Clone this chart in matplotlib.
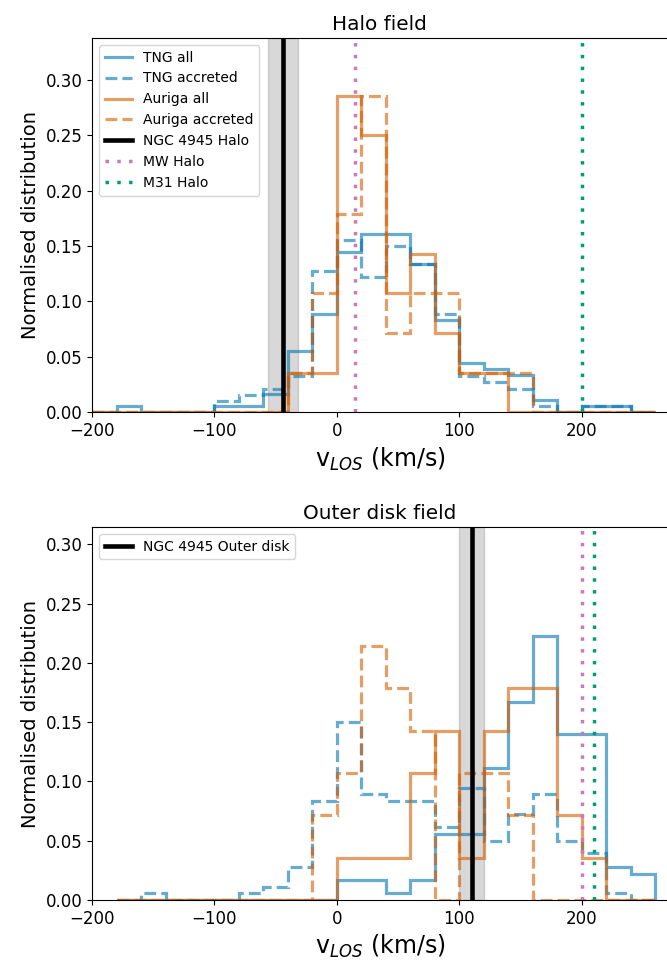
import numpy as np
import matplotlib
matplotlib.use('Agg')
import matplotlib.pyplot as plt

# histogram bins (km/s)
edges_halo = np.arange(-200, 261, 20)
edges_disk = np.arange(-180, 261, 20)

# Halo field, normalised fractions per 20 km/s bin
tng_all_halo = np.array([0, 1, 0, 0, 0, 1, 1, 3, 10, 16, 26, 29, 29, 24, 15, 8, 7, 6, 2, 0, 1, 1, 0]) / 180.
tng_acc_halo = np.array([0, 0, 0, 0, 0, 0.0102, 0.015, 0.021, 0.0325, 0.1277, 0.1554, 0.1223,
                         0.1503, 0.1337, 0.0883, 0.0328, 0.0268, 0.0208, 0.005, 0, 0.005, 0.005, 0])
aur_all_halo = np.array([0, 0, 0, 0, 0, 0, 0, 0, 1, 1, 8, 7, 3, 4, 2, 1, 1, 0, 0, 0, 0, 0, 0]) / 28.
aur_acc_halo = np.array([0, 0, 0, 0, 0, 0, 0, 0, 1, 3, 5, 8, 2, 3, 3, 1, 1, 1, 0, 0, 0, 0, 0]) / 28.

# Outer disk field
tng_all_disk = np.array([0, 0, 0, 0, 0, 0, 0, 0, 0, 0.0169, 0.0169, 0.0056, 0.0169, 0.0554, 0.0554,
                         0.1116, 0.1672, 0.2229, 0.1397, 0.1397, 0.0281, 0.0219])
tng_acc_disk = np.array([0, 0.0056, 0, 0, 0, 0.0056, 0.0112, 0.0276, 0.0835, 0.1504, 0.0894, 0.0835,
                         0.0835, 0.0613, 0.0947, 0.05, 0.0725, 0.0894, 0.05, 0.0393, 0.0056, 0])
aur_all_disk = np.array([0, 0, 0, 0, 0, 0, 0, 0, 0, 1, 1, 1, 3, 4, 1, 4, 5, 5, 2, 1, 0, 0]) / 28.
aur_acc_disk = np.array([0, 0, 0, 0, 0, 0, 0, 0, 2, 3, 6, 5, 4, 0, 3, 3, 2, 0, 0, 0, 0, 0]) / 28.

# reference velocities
ngc_halo, ngc_halo_err = -44, 12
ngc_disk, ngc_disk_err = 110, 10
mw_halo = [15, 200]
m31_halo = [200, 210]

c_tng = '#0173b2'
c_aur = '#d55e00'
c_mw = '#cc78bc'
c_m31 = '#029e73'
dots = (0, (1, 2.4))

fig = plt.figure(figsize=(6.67, 9.6), dpi=100)
ax1 = fig.add_axes([0.138, 0.5708, 0.8628, 0.3896])
ax2 = fig.add_axes([0.138, 0.0625, 0.8628, 0.3885])

panels = [
    (ax1, edges_halo, tng_all_halo, tng_acc_halo, aur_all_halo, aur_acc_halo,
     ngc_halo, ngc_halo_err, 'NGC 4945 Halo', mw_halo[0], m31_halo[0], 'Halo field', 0.338),
    (ax2, edges_disk, tng_all_disk, tng_acc_disk, aur_all_disk, aur_acc_disk,
     ngc_disk, ngc_disk_err, 'NGC 4945 Outer disk', mw_halo[1], m31_halo[1], 'Outer disk field', 0.3145),
]

for ax, edges, ta, tc, aa, ac, v0, dv, lab, vmw, vm31, title, ytop in panels:
    ax.axvspan(v0 - dv, v0 + dv, color='gray', alpha=0.3, zorder=0)
    ax.stairs(ta, edges, color=c_tng, alpha=0.6, lw=2.3, label='TNG all')
    ax.stairs(tc, edges, color=c_tng, alpha=0.6, lw=2.3, ls='--', label='TNG accreted')
    ax.stairs(aa, edges, color=c_aur, alpha=0.6, lw=2.3, label='Auriga all')
    ax.stairs(ac, edges, color=c_aur, alpha=0.6, lw=2.3, ls='--', label='Auriga accreted')
    ax.axvline(v0, color='k', lw=3.3, label=lab)
    ax.axvline(vmw, color=c_mw, lw=2.5, ls=dots, label='MW Halo')
    ax.axvline(vm31, color=c_m31, lw=2.5, ls=dots, label='M31 Halo')
    ax.set_xlim(-200, 270)
    ax.set_ylim(0, ytop)
    ax.set_xticks([-200, -100, 0, 100, 200])
    ax.set_yticks(np.arange(0, 0.31, 0.05))
    ax.yaxis.set_major_formatter(matplotlib.ticker.FormatStrFormatter('%.2f'))
    ax.tick_params(labelsize=12)
    ax.set_xlabel(r'v$_{LOS}$ (km/s)', fontsize=17)
    ax.set_ylabel('Normalised distribution', fontsize=14)
    ax.set_title(title, fontsize=14.4)

ax1.legend(loc='upper left', fontsize=10)
h, l = ax2.get_legend_handles_labels()
ax2.legend([h[l.index('NGC 4945 Outer disk')]], ['NGC 4945 Outer disk'], loc='upper left', fontsize=10)

fig.savefig('out.png', dpi=100)
